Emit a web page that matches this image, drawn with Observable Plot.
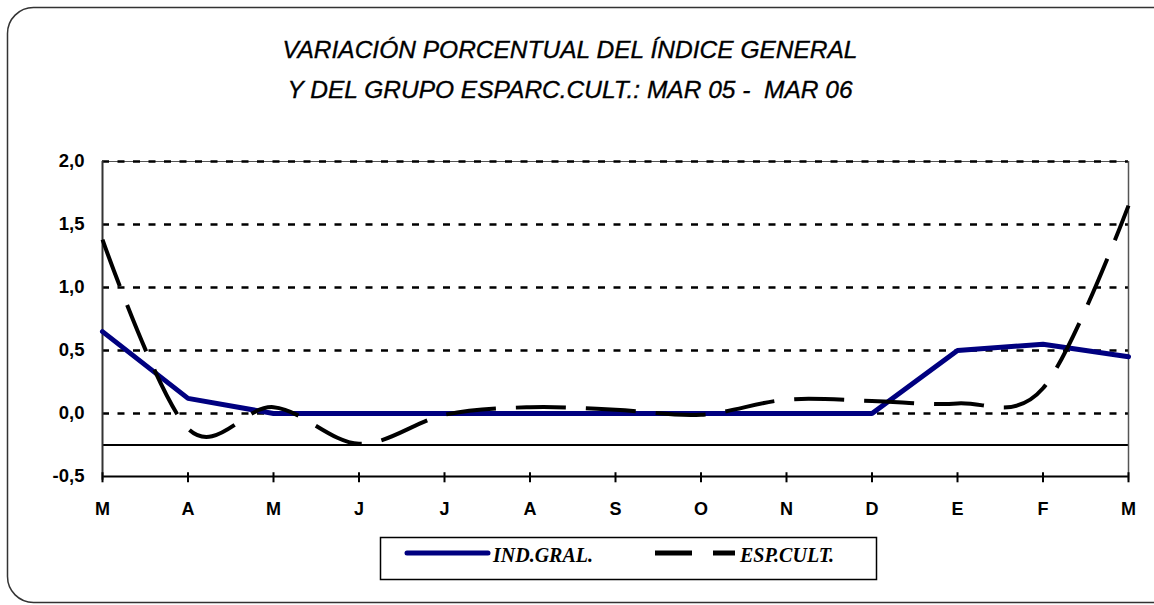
<!DOCTYPE html>
<html>
<head>
<meta charset="utf-8">
<script src="https://cdn.jsdelivr.net/npm/d3@7"></script>
<script src="https://cdn.jsdelivr.net/npm/@observablehq/plot@0.6"></script>
<style>
  html, body { margin: 0; padding: 0; background: #fff; }
  #chart { position: relative; width: 1154px; height: 605px; overflow: hidden; }
</style>
</head>
<body>
<div id="chart"></div>
<script>
// ---- data ----
const months = ["M","A","M","J","J","A","S","O","N","D","E","F","M"];
const indGral = [0.65, 0.12, 0.0, 0.0, 0.0, 0.0, 0.0, 0.0, 0.0, 0.0, 0.5, 0.55, 0.45];
const espCult = [1.38, -0.12, 0.05, -0.24, -0.01, 0.05, 0.03, -0.01, 0.11, 0.10, 0.08, 0.2, 1.65];
const yTicks = [-0.5, 0, 0.5, 1, 1.5, 2];
const gridValues = [0, 0.5, 1, 1.5, 2];
const baseLine = [-0.25];
const titleLines = ["VARIACIÓN PORCENTUAL DEL ÍNDICE GENERAL", "Y DEL GRUPO ESPARC.CULT.: MAR 05 -  MAR 06"];
const seriesNames = ["IND.GRAL.", "ESP.CULT."];

const idx = months.map((_, i) => i);
const indData = indGral.map((v, i) => ({i, v}));
const espData = espCult.map((v, i) => ({i, v}));
const fmt = v => d3.format(".1f")(v).replace(".", ",").replace("−", "-");

const W = 1154, H = 605;
const plot = Plot.plot({
  width: W,
  height: H,
  marginLeft: 102,
  marginRight: 26,
  marginTop: 161,
  marginBottom: 129,
  style: {fontFamily: "'Liberation Sans', Arial, sans-serif", fontSize: "17px", fontWeight: "bold", color: "#000", background: "transparent"},
  x: {type: "linear", domain: [0, 12], axis: null},
  y: {domain: [-0.5, 2], axis: null},
  marks: [
    Plot.ruleY([2], {stroke: "#555", strokeWidth: 1}),
    Plot.ruleY(gridValues, {stroke: "#000", strokeWidth: 2.5, strokeDasharray: "7,8.5"}),
    Plot.ruleY(baseLine, {stroke: "#000", strokeWidth: 2}),
    Plot.ruleY([-0.5], {stroke: "#000", strokeWidth: 2}),
    Plot.ruleX([0], {stroke: "#333", strokeWidth: 2, y1: -0.53, y2: 2}),
    Plot.ruleX([12], {stroke: "#555", strokeWidth: 1.5, y1: -0.53, y2: 2}),
    Plot.ruleX(idx, {x: d => d, y1: -0.55, y2: -0.47, stroke: "#000", strokeWidth: 2}),
    Plot.axisY(yTicks, {anchor: "left", label: null, tickSize: 0, tickPadding: 18, tickFormat: fmt, fontSize: 18.5, fontWeight: "bold"}),
    Plot.axisX(idx, {anchor: "bottom", label: null, tickSize: 0, tickPadding: 26, tickFormat: i => months[i], fontSize: 18, fontWeight: "bold"}),
    Plot.line(indData, {x: "i", y: "v", stroke: "#000080", strokeWidth: 5, strokeLinejoin: "miter"}),
    Plot.line(espData, {x: "i", y: "v", curve: "cardinal", stroke: "#000", strokeWidth: 4, strokeDasharray: "50,20", strokeLinecap: "butt"})
  ]
});
document.getElementById("chart").appendChild(plot);

const svg = d3.select(plot);
// outer rounded border
svg.insert("rect", ":first-child")
  .attr("x", 7.5).attr("y", 7.5).attr("width", 1170).attr("height", 595)
  .attr("rx", 26).attr("ry", 26)
  .attr("fill", "#fff").attr("stroke", "#333").attr("stroke-width", 1.5);

// title
titleLines.forEach((t, k) => {
  svg.append("text")
    .attr("x", 570).attr("y", 58 + k * 40)
    .attr("text-anchor", "middle")
    .style("font-family", "'Liberation Sans', Arial, sans-serif")
    .style("font-style", "italic")
    .style("font-weight", "normal")
    .style("font-size", "24.5px")
    .style("stroke", "#000").style("stroke-width", "0.35px")
    .text(t);
});

// legend
const lg = svg.append("g");
lg.append("rect").attr("x", 380.5).attr("y", 537.5).attr("width", 496).attr("height", 42)
  .attr("fill", "#fff").attr("stroke", "#000").attr("stroke-width", 1.5);
lg.append("line").attr("x1", 407).attr("x2", 488).attr("y1", 553).attr("y2", 553)
  .attr("stroke", "#000080").attr("stroke-width", 5).attr("stroke-linecap", "round");
lg.append("line").attr("x1", 655).attr("x2", 735).attr("y1", 553).attr("y2", 553)
  .attr("stroke", "#000").attr("stroke-width", 5).attr("stroke-dasharray", "37,21");
[[493, seriesNames[0]], [740, seriesNames[1]]].forEach(([x, t]) => {
  lg.append("text").attr("x", x).attr("y", 562)
    .attr("text-anchor", "start")
    .style("font-family", "'Liberation Serif', 'Times New Roman', serif")
    .style("font-style", "italic").style("font-weight", "bold").style("font-size", "20px")
    .text(t);
});
</script>
</body>
</html>
